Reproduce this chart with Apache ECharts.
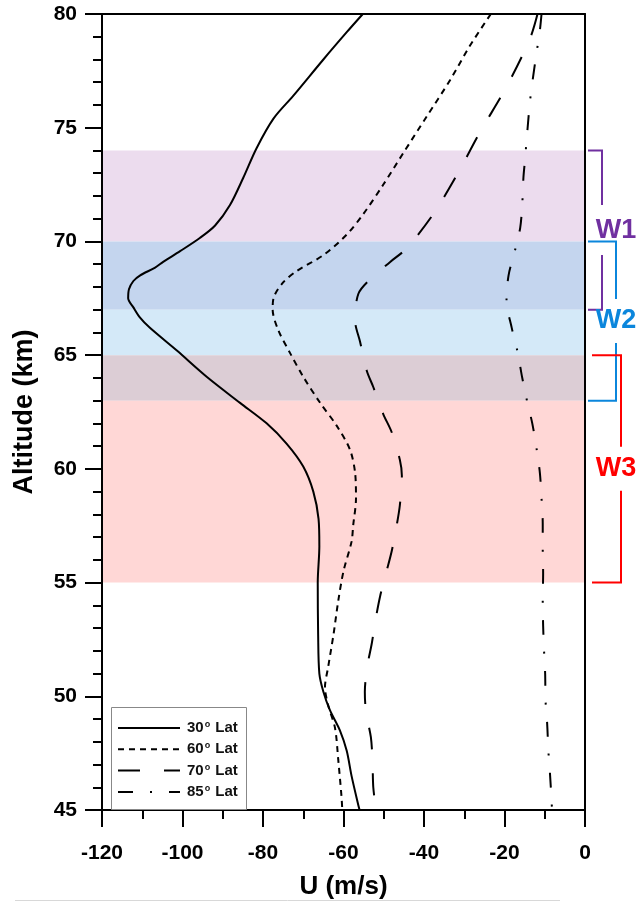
<!DOCTYPE html>
<html>
<head>
<meta charset="utf-8">
<script src="https://cdn.jsdelivr.net/npm/echarts@6/dist/echarts.min.js"></script>
<style>
html,body{margin:0;padding:0;background:#fff;}
#chart{width:639px;height:905px;}
</style>
</head>
<body>
<div id="chart"></div>
<script>
// ---- data: [U (m/s), altitude (km)] ----
const lat30 = [[-55.2,80],[-59.2,79.2],[-65.0,78.0],[-72.5,76.4],[-77.4,75.4],[-81.6,74.1],[-84.9,72.8],[-88.2,71.6],[-91.9,70.7],[-95.7,70.15],[-100.6,69.57],[-104.8,69.1],[-106.8,68.85],[-110.6,68.5],[-112.2,68.26],[-113.3,67.9],[-113.5,67.5],[-112.2,67.1],[-110.6,66.66],[-108.1,66.2],[-101.4,65.2],[-94.0,64.05],[-85.7,62.9],[-79.1,62.0],[-74.1,61.1],[-70.0,60.1],[-67.5,59.0],[-66.2,57.8],[-66.0,56.6],[-66.4,55.0],[-66.3,52.7],[-66.0,51.0],[-65.0,50.2],[-63.4,49.4],[-60.9,48.5],[-59.2,47.6],[-58.0,46.5],[-56.3,45.2],[-56.0,45]];
const lat60 = [[-23.4,80],[-28.6,78.6],[-33.5,77.1],[-39.3,75.5],[-45.1,73.9],[-50.1,72.5],[-55.1,71.2],[-59.2,70.3],[-65.0,69.4],[-71.6,68.7],[-75.0,68.2],[-77.4,67.5],[-77.6,67.0],[-76.2,66.1],[-73.3,65.1],[-70.0,64.05],[-65.8,62.9],[-61.7,61.9],[-58.4,60.85],[-57.1,59.8],[-56.9,58.7],[-57.6,57.5],[-58.0,56.8],[-60.0,55.5],[-61.3,54.2],[-62.5,52.7],[-63.8,51.3],[-64.6,50.4],[-63.8,49.6],[-62.1,48.6],[-61.3,47.2],[-60.5,45.6],[-60.3,45]];
const lat70 = [[-11.8,80],[-13.7,78.9],[-19.5,76.8],[-26.1,74.8],[-31.9,72.9],[-37.7,71.2],[-44.3,69.7],[-48.4,69.1],[-53.0,68.4],[-56.3,67.7],[-57.1,66.5],[-55.9,65.6],[-54.2,64.3],[-52.6,63.6],[-50.1,62.4],[-48.0,61.6],[-46.0,60.4],[-45.5,59.7],[-46.0,58.4],[-46.8,57.5],[-48.0,56.4],[-49.3,55.5],[-50.9,54.4],[-52.0,53.4],[-53.0,52.3],[-54.0,51.4],[-54.7,50.2],[-54.4,49.3],[-53.2,48.2],[-52.8,47.2],[-52.6,46.0],[-51.9,45]];
const lat85 = [[-10.8,80],[-11.2,79.3],[-12.2,78.1],[-13.0,77.1],[-13.7,76.1],[-14.3,74.9],[-14.9,73.6],[-15.3,72.8],[-15.6,71.6],[-16.1,70.6],[-17.4,69.6],[-19.0,68.5],[-19.5,67.4],[-18.2,66.2],[-16.7,65.1],[-15.7,64.1],[-14.3,62.9],[-13.1,62.0],[-12.0,60.85],[-11.2,59.8],[-10.8,58.7],[-10.5,57.6],[-10.5,56.5],[-10.4,55.4],[-10.5,54.2],[-10.4,53.1],[-10.2,52.1],[-9.9,51.0],[-9.8,49.8],[-9.4,48.8],[-9.1,47.6],[-8.7,46.6],[-8.3,45.4],[-8.2,45]];
const seriesLat = ['30','60','70','85'];
const seriesNames = seriesLat.map(l => l + '° Lat');

// shaded altitude bands (km)
const bandTop = [74,70,67,65,63];
const bandBottom = [70,67,65,63,55];
// bracket annotations
const bracketNames = ['W1','W2','W3'];
const bracketTop = [74,70,65];
const bracketBottom = [67,63,55];

const xTicks = {min:-120, max:0, interval:20};
const yTicks = {min:45, max:80, interval:5};

// ---- styles ----
const FONT = "'Liberation Sans', Arial, Helvetica, sans-serif";
const bandColors = ['#ecdcee','#c4d5ee','#d4e9f8','#dccdd5','#ffd7d6'];
const dashes = ['solid',[6,5],[22,24],[15,17,2,17]];
const bracketColors = ['#7030a0','#0b86dc','#ff0000'];
const bracketLayout = [
  {xs:3, vx:17, lx:31, gap:25},
  {xs:3, vx:31, lx:31, gap:22},
  {xs:7, vx:36, lx:31, gap:22}
];
const legendBox = {x:111, y:707, w:135, h:102, lineX:118, lineLen:62, textX:187, firstY:728, step:21.3};

const chart = echarts.init(document.getElementById('chart'), null, {renderer:'canvas'});

const datasets = [lat30, lat60, lat70, lat85];
const series = datasets.map((d,i)=>({
  name: seriesNames[i],
  type:'line',
  data:d,
  symbol:'none',
  smooth:0.3,
  z:3,
  lineStyle:{color:'#000', width:2, type:dashes[i]},
  itemStyle:{color:'#000'},
  animation:false
}));
series[0].markArea = {
  silent:true,
  z:1,
  data: bandTop.map((t,i)=>[
    {xAxis:xTicks.min, yAxis:t, itemStyle:{color:bandColors[i], opacity:1}},
    {xAxis:xTicks.max, yAxis:bandBottom[i]}
  ])
};

const axisText = {color:'#000', fontWeight:'bold', fontSize:21, fontFamily:FONT};

chart.setOption({
  animation:false,
  backgroundColor:'#fff',
  grid:{left:102, right:54, top:14, bottom:90, show:false},
  xAxis:[{
    type:'value', min:xTicks.min, max:xTicks.max, interval:xTicks.interval,
    position:'bottom', z:5,
    axisLine:{show:true, onZero:false, lineStyle:{color:'#000', width:2}},
    axisTick:{show:true, inside:false, length:17, lineStyle:{color:'#000', width:2}},
    minorTick:{show:true, splitNumber:2, length:9, lineStyle:{color:'#000', width:2}},
    splitLine:{show:false},
    axisLabel:Object.assign({margin:33}, axisText),
    name:'U (m/s)', nameLocation:'middle', nameGap:64,
    nameTextStyle:{color:'#000', fontWeight:'bold', fontSize:26, fontFamily:FONT}
  },{
    type:'value', min:xTicks.min, max:xTicks.max, position:'top', z:5,
    axisLine:{show:true, onZero:false, lineStyle:{color:'#000', width:2}},
    axisTick:{show:false}, axisLabel:{show:false}, splitLine:{show:false}
  }],
  yAxis:[{
    type:'value', min:yTicks.min, max:yTicks.max, interval:yTicks.interval,
    position:'left', z:5,
    axisLine:{show:true, onZero:false, lineStyle:{color:'#000', width:2}},
    axisTick:{show:true, inside:false, length:17, lineStyle:{color:'#000', width:2}},
    minorTick:{show:true, splitNumber:5, length:9, lineStyle:{color:'#000', width:2}},
    splitLine:{show:false},
    axisLabel:Object.assign({margin:25}, axisText),
    name:'Altitude (km)', nameLocation:'middle', nameGap:64,
    nameTextStyle:{color:'#000', fontWeight:'bold', fontSize:27, fontFamily:FONT}
  },{
    type:'value', min:yTicks.min, max:yTicks.max, position:'right', z:5,
    axisLine:{show:true, onZero:false, lineStyle:{color:'#000', width:2}},
    axisTick:{show:false}, axisLabel:{show:false}, splitLine:{show:false}
  }],
  series: series
});

// annotations placed with the chart's own scales
function px(u, a){ return chart.convertToPixel({xAxisIndex:0, yAxisIndex:0}, [u, a]); }
const R = px(0, 45)[0];
const graphics = [];
bracketNames.forEach((nm,i)=>{
  const L = bracketLayout[i];
  const yT = px(0, bracketTop[i])[1];
  const yB = px(0, bracketBottom[i])[1];
  const yM = (yT + yB) / 2;
  const st = {stroke:bracketColors[i], lineWidth:2, fill:null};
  graphics.push({type:'polyline', silent:true, z:20,
    shape:{points:[[R+L.xs,yT],[R+L.vx,yT],[R+L.vx,yM-L.gap]]}, style:st});
  graphics.push({type:'polyline', silent:true, z:20,
    shape:{points:[[R+L.vx,yM+L.gap],[R+L.vx,yB],[R+L.xs,yB]]}, style:st});
  graphics.push({type:'text', silent:true, z:20, x:R+L.lx, y:yM,
    style:{text:nm, fill:bracketColors[i], font:'bold 27px ' + FONT, textAlign:'center', textVerticalAlign:'middle'}});
});

// legend (drawn so the dash patterns match the series)
const LB = legendBox;
graphics.push({type:'rect', silent:true, z:30, shape:{x:LB.x+0.5, y:LB.y+0.5, width:LB.w, height:LB.h},
  style:{fill:'#fff', stroke:'#888', lineWidth:1}});
seriesLat.forEach((lat,i)=>{
  const y = LB.firstY + i*LB.step;
  graphics.push({type:'line', silent:true, z:31,
    shape:{x1:LB.lineX, y1:y, x2:LB.lineX+LB.lineLen, y2:y},
    style:{stroke:'#000', lineWidth:2, lineDash: dashes[i]==='solid' ? null : dashes[i]}});
  graphics.push({type:'text', silent:true, z:31, x:LB.textX, y:y,
    style:{
      text:'{n|' + lat + '}{s|o}{n| Lat}',
      textVerticalAlign:'middle',
      rich:{
        n:{fontSize:15, fontWeight:'bold', fontFamily:FONT, fill:'#111', lineHeight:16},
        s:{fontSize:9, fontWeight:'bold', fontFamily:FONT, fill:'#111', verticalAlign:'top', lineHeight:16, padding:[0,1,0,1]}
      }
    }});
});
graphics.push({type:'line', silent:true, z:20, shape:{x1:15, y1:900.5, x2:560, y2:900.5}, style:{stroke:'#d8d8d8', lineWidth:1}});
chart.setOption({graphic: graphics});
</script>
</body>
</html>
